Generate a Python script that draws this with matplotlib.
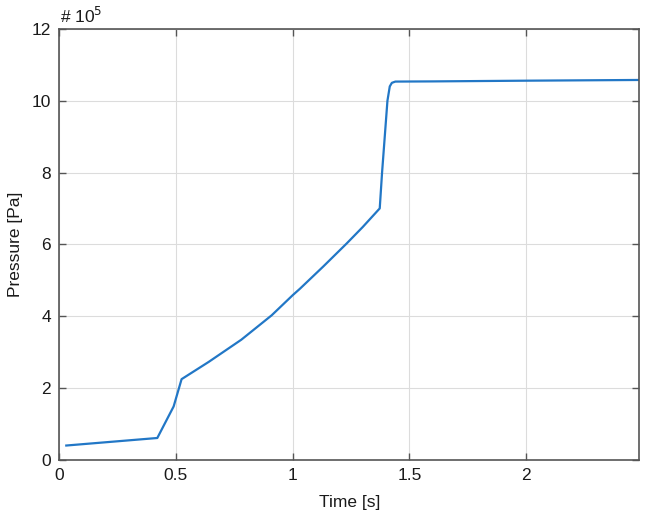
import matplotlib
matplotlib.use("Agg")
import matplotlib.pyplot as plt

# Data (pressure in units of 1e5 Pa)
time_s = [0.03, 0.42, 0.49, 0.524, 0.64, 0.78, 0.91, 1.0, 1.031, 1.131, 1.231,
          1.30, 1.373, 1.383, 1.406, 1.416, 1.425, 1.44, 1.6, 2.0, 2.485]
pressure_e5 = [0.39, 0.60, 1.48, 2.24, 2.72, 3.34, 4.02, 4.58, 4.76, 5.38, 6.02,
               6.48, 7.0, 8.0, 10.0, 10.4, 10.5, 10.535, 10.54, 10.56, 10.58]
x_ticks = [0, 0.5, 1, 1.5, 2]
x_tick_labels = ["0", "0.5", "1", "1.5", "2"]
y_ticks = [0, 2, 4, 6, 8, 10, 12]

plt.rcParams['font.family'] = ['Liberation Sans', 'DejaVu Sans']

fig = plt.figure(figsize=(6.5, 5.22), dpi=100)
ax = fig.add_axes([0.0912, 0.1197, 0.8923, 0.8247])

ax.plot(time_s, pressure_e5, color='#2277c6', lw=1.6, solid_joinstyle='round')

ax.set_xlim(0, 2.485)
ax.set_ylim(0, 12)
ax.set_xticks(x_ticks)
ax.set_xticklabels(x_tick_labels)
ax.set_yticks(y_ticks)

ax.grid(True, color='#dcdcdc', lw=0.8)
ax.set_axisbelow(True)
for s in ax.spines.values():
    s.set_color('#555555')
    s.set_linewidth(1.2)
ax.tick_params(direction='in', length=5, width=1.0, color='#555555',
               top=True, right=True, labelsize=12.5, labelcolor='#1a1a1a', pad=6)

ax.set_xlabel('Time [s]', fontsize=12.5, color='#1a1a1a', labelpad=9)
ax.set_ylabel('Pressure [Pa]', fontsize=12.5, color='#1a1a1a', labelpad=6)

fig.text(0.0925, 0.955, '# 10$^5$', fontsize=12.5, color='#1a1a1a', ha='left', va='baseline')

fig.savefig('out.png', dpi=100)
